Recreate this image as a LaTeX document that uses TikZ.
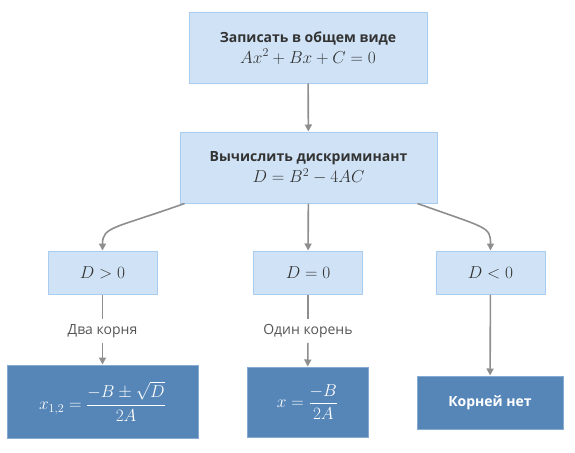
\documentclass[tikz,border=0pt]{standalone}
\usepackage{fontspec}
\setsansfont{Open Sans}
\usepackage{amsmath}
\usetikzlibrary{arrows.meta}
\definecolor{lightfill}{HTML}{D0E3F6}
\definecolor{lightline}{HTML}{A9CDF0}
\definecolor{darkfill}{HTML}{5686B7}
\definecolor{darkline}{HTML}{86AAD2}
\definecolor{arrowgray}{HTML}{8E8E8E}
\definecolor{textdark}{HTML}{333333}
\definecolor{labelgray}{HTML}{555555}
\newcommand{\mfont}{\fontsize{18}{21}\selectfont}
\newcommand{\bfont}{\fontsize{14}{17}\selectfont\bfseries}

\begin{document}
\begin{tikzpicture}[x=1pt,y=-1pt,
    every node/.style={font=\sffamily,inner sep=0pt,align=center},
    lightbox/.style={draw=lightline,fill=lightfill,line width=1pt,text=textdark},
    darkbox/.style={draw=darkline,fill=darkfill,line width=1pt,text=white},
    lbl/.style={text=labelgray,font=\sffamily\fontsize{14}{17}\selectfont,inner ysep=5pt,inner xsep=2pt},
    arr/.style={draw=arrowgray,line width=1.6pt,-{Triangle[width=7pt,length=7pt]}},
    ln/.style={draw=arrowgray,line width=1.6pt}]
    \useasboundingbox (0,0) rectangle (575,452);

    \node[lightbox,minimum width=238pt,minimum height=70pt] (write) at (308,48)
      {{\bfont Записать в общем виде}\\[3pt]{\mfont $Ax^2+Bx+C=0$}};
    \node[lightbox,minimum width=257pt,minimum height=71pt] (calc) at (308.5,167.5)
      {{\bfont Вычислить дискриминант}\\[3pt]{\mfont $D=B^2-4AC$}};

    \node[lightbox,minimum width=109pt,minimum height=43pt] (gt) at (102.5,272.5) {\mfont $D>0$};
    \node[lightbox,minimum width=109pt,minimum height=43pt] (eq) at (308,272.5) {\mfont $D=0$};
    \node[lightbox,minimum width=109pt,minimum height=43pt] (lt) at (490.5,272.5) {\mfont $D<0$};

    \node[lbl] (two) at (102.5,331) {Два корня};
    \node[lbl] (one) at (308,331) {Один корень};

    \node[darkbox,minimum width=191pt,minimum height=73pt] (roots2) at (102.5,401.5)
      {\mfont $x_{1,2}=\dfrac{-B\pm\sqrt{D}}{2A}$};
    \node[darkbox,minimum width=121pt,minimum height=70pt] (roots1) at (307.5,402)
      {\mfont $x=\dfrac{-B}{2A}$};
    \node[darkbox,minimum width=146pt,minimum height=53pt] (noroot) at (490,402.5)
      {\bfont Корней нет};

    \draw[arr] (write) -- (calc);
    \draw[arr] ([xshift=5pt]calc.south west) .. controls +(-70,25) and +(0,-24) .. (gt.north);
    \draw[arr] (calc) -- (eq);
    \draw[arr] ([xshift=-20pt]calc.south east) .. controls +(70,25) and +(0,-24) .. (lt.north);

    \draw[ln] (gt) -- (two);
    \draw[arr] (two) -- (roots2);
    \draw[ln] (eq) -- (one);
    \draw[arr] (one) -- (roots1);
    \draw[arr] (lt) -- (noroot);
\end{tikzpicture}
\end{document}
